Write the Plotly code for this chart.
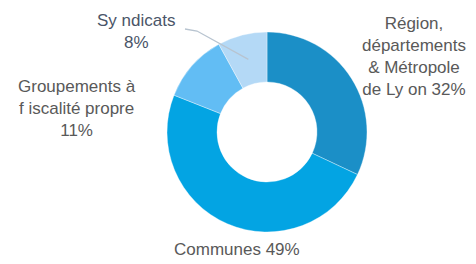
import math
import plotly.graph_objects as go

labels = ["Région, départements & Métropole de Lyon", "Communes", "Groupements à fiscalité propre", "Syndicats"]
values = [32, 49, 11, 8]
colors = ["#1b8fc7", "#03a4e3", "#62bdf4", "#b4d9f6"]

OFF = 8                      # page body margin
W, H = 476 - OFF, 264 - OFF
cx, cy, R = 267, 132, 100    # screen pixel layout of the donut

def px(x, y):
    return (x - OFF) / W, 1 - (y - OFF) / H

x0, y0 = px(cx - R, cy + R)
x1, y1 = px(cx + R, cy - R)

fig = go.Figure(go.Pie(
    labels=labels, values=values, sort=False, direction="clockwise", rotation=0,
    hole=0.5, textinfo="none", hoverinfo="label+percent",
    marker=dict(colors=colors, line=dict(color="rgba(255,255,255,0.6)", width=0.6)),
    domain=dict(x=[x0, x1], y=[y0, y1]),
    showlegend=False,
))

font = dict(family="Liberation Sans, Arial, sans-serif", size=17, color="#595959")

annots = [
    ("Région,<br>départements<br>& Métropole<br>de Ly on " + f"{values[0]}%", 414, 56, "#595959"),
    ("Communes " + f"{values[1]}%", 237, 249, "#595959"),
    ("Groupements à<br>f iscalité propre<br>" + f"{values[2]}%", 77, 108, "#595959"),
    ("Sy ndicats<br>" + f"{values[3]}%", 136, 31, "#4a5568"),
]
for text, x, y, col in annots:
    xx, yy = px(x, y)
    fig.add_annotation(x=xx, y=yy, xref="paper", yref="paper", text=text, showarrow=False,
                       xanchor="center", yanchor="middle", align="center",
                       font=dict(font, color=col))

# leader line for Syndicats, to the middle of its slice
cum = sum(values[:3]) + values[3] / 2
ang = 2 * math.pi * cum / sum(values)
ex, ey = cx + 0.75 * R * math.sin(ang), cy - 0.75 * R * math.cos(ang)
p0 = px(185, 29); p1 = px(197, 31); p2 = px(ex, ey)
fig.add_shape(type="path", xref="paper", yref="paper",
              path=f"M {p0[0]} {p0[1]} L {p1[0]} {p1[1]} L {p2[0]} {p2[1]}",
              line=dict(color="#b8c4d0", width=1.3))

fig.update_layout(width=W, height=H, margin=dict(l=0, r=0, t=0, b=0),
                  paper_bgcolor="white", plot_bgcolor="white", font=font)
fig.write_html("out.html")
